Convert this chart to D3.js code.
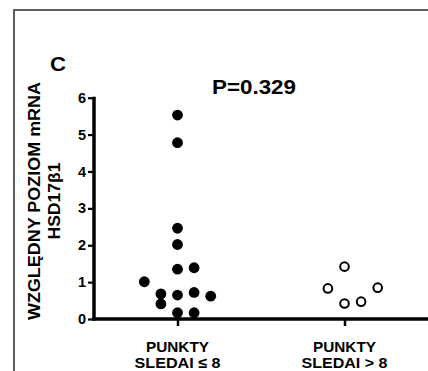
<!DOCTYPE html>
<html><head><meta charset="utf-8">
<script src="https://cdn.jsdelivr.net/npm/d3@7"></script>
<style>
html,body{margin:0;padding:0;background:#fff;}
svg{display:block;font-family:"Liberation Sans",Arial,sans-serif;font-weight:bold;}
</style></head>
<body>
<script>
// ---- data ----
const categories = ["SLEDAI ≤ 8", "SLEDAI > 8"];
const categoryPrefix = "PUNKTY";
const group1Values = [5.53, 4.78, 2.46, 2.02, 1.35, 1.39, 1.01, 0.68, 0.41, 0.65, 0.72, 0.62, 0.17, 0.17];
const group1Slots  = [0, 0, 0, 0, 0, 1, -2, -1, -1, 0, 1, 2, 0, 1];
const group2Values = [1.42, 0.83, 0.85, 0.42, 0.47];
const group2Slots  = [0, -1, 2, 0, 1];
const yTicks = [0, 1, 2, 3, 4, 5, 6];
const pLabel = "P=0.329";
const panelLabel = "C";
const yTitle = ["WZGLĘDNY POZIOM mRNA", "HSD17β1"];

// ---- layout ----
const W = 428, H = 371;
const svg = d3.select("body").append("svg").attr("width", W).attr("height", H);

svg.append("rect").attr("x", 14).attr("y", 10).attr("width", W).attr("height", H)
  .attr("fill", "none").attr("stroke", "#5e5e5e").attr("stroke-width", 2);

const x = d3.scalePoint().domain(categories).range([94, 428]).padding(0.5);
const y = d3.scaleLinear().domain([0, 6]).range([319, 97.7]);
const slotStep = 16.6;

// Y axis
const yAxis = svg.append("g").attr("transform", "translate(94,0)")
  .call(d3.axisLeft(y).tickValues(yTicks).tickSize(6).tickPadding(2).tickFormat(d3.format("d")));
yAxis.select(".domain").attr("stroke", "#000").attr("stroke-width", 3.5)
  .attr("d", `M0,${y(6) - 1}V${y(0) + 1.5}`);
yAxis.selectAll(".tick line").attr("stroke", "#000").attr("stroke-width", 2.2);
yAxis.selectAll(".tick text").attr("font-size", 14.5).attr("font-weight", "bold")
  .attr("font-family", "Liberation Sans, Arial, sans-serif").attr("fill", "#000");

// X axis
const xAxis = svg.append("g").attr("transform", `translate(0,${y(0)})`)
  .call(d3.axisBottom(x).tickSize(7).tickFormat(""));
xAxis.select(".domain").attr("stroke", "#000").attr("stroke-width", 3.5)
  .attr("d", `M92.3,0H${W}`);
xAxis.selectAll(".tick line").attr("stroke", "#000").attr("stroke-width", 2.5);

// X category labels
categories.forEach(c => {
  const t = svg.append("text").attr("text-anchor", "middle").attr("font-size", 15).attr("fill", "#000");
  t.append("tspan").attr("x", x(c)).attr("y", 352)
    .attr("textLength", 63).attr("lengthAdjust", "spacingAndGlyphs").text(categoryPrefix);
  t.append("tspan").attr("x", x(c)).attr("y", 368)
    .attr("textLength", 86).attr("lengthAdjust", "spacingAndGlyphs").text(c);
});

// Points
const g1 = group1Values.map((v, i) => ({v, s: group1Slots[i]}));
const g2 = group2Values.map((v, i) => ({v, s: group2Slots[i]}));
svg.append("g").selectAll("circle").data(g1).join("circle")
  .attr("cx", d => x(categories[0]) + d.s * slotStep)
  .attr("cy", d => y(d.v))
  .attr("r", 5.4).attr("fill", "#000");
svg.append("g").selectAll("circle").data(g2).join("circle")
  .attr("cx", d => x(categories[1]) + d.s * slotStep)
  .attr("cy", d => y(d.v))
  .attr("r", 4.3).attr("fill", "#fff").attr("stroke", "#000").attr("stroke-width", 2);

// Texts
svg.append("text").attr("x", 254).attr("y", 94).attr("text-anchor", "middle")
  .attr("font-size", 20.5).attr("fill", "#000")
  .attr("textLength", 84).attr("lengthAdjust", "spacingAndGlyphs").text(pLabel);
svg.append("text").attr("x", 58).attr("y", 71).attr("text-anchor", "middle")
  .attr("font-size", 20).attr("fill", "#000")
  .attr("textLength", 16).attr("lengthAdjust", "spacingAndGlyphs").text(panelLabel);

const yt = svg.append("text").attr("transform", "translate(0,201) rotate(-90)")
  .attr("text-anchor", "middle").attr("font-size", 16.5).attr("fill", "#000");
yt.append("tspan").attr("x", 0).attr("y", 39.5)
  .attr("textLength", 238).attr("lengthAdjust", "spacingAndGlyphs").text(yTitle[0]);
yt.append("tspan").attr("x", 0).attr("y", 59.5)
  .attr("textLength", 77).attr("lengthAdjust", "spacingAndGlyphs").text(yTitle[1]);
</script>
</body></html>
